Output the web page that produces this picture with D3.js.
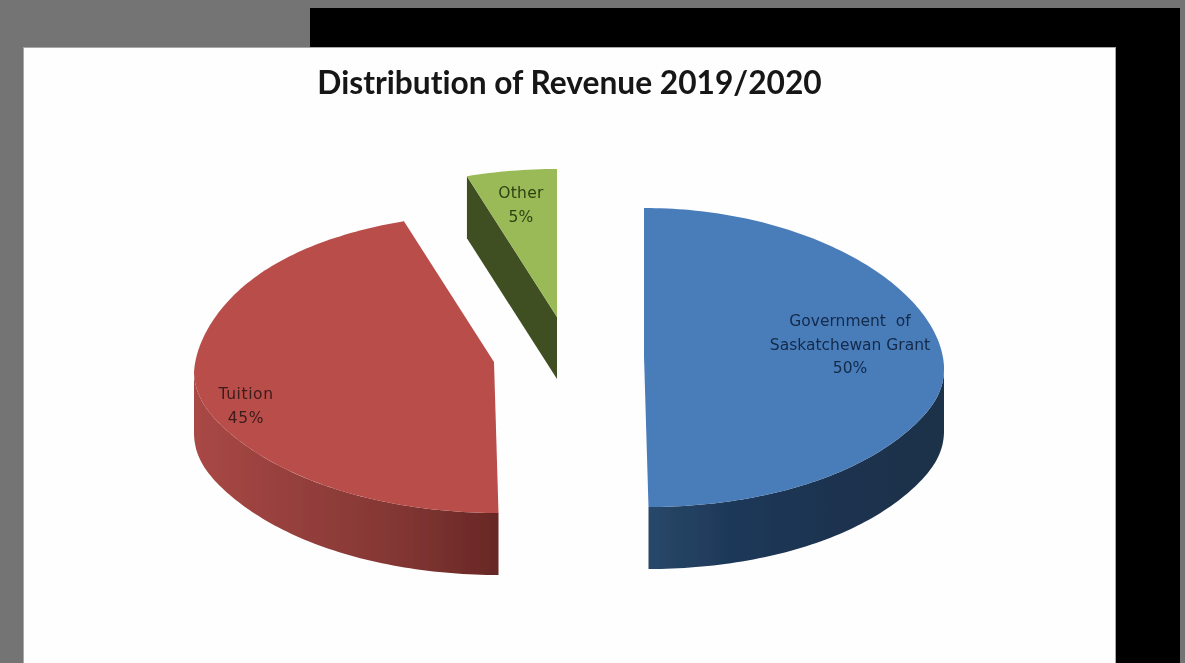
<!DOCTYPE html>
<html>
<head>
<meta charset="utf-8">
<style>
  html, body { margin: 0; padding: 0; background: #737473; overflow: hidden; }
  svg { display: block; }
</style>
<script src="https://d3js.org/d3.v7.min.js"></script>
</head>
<body>
<div id="chart"></div>
<script>
const categories = ['Government of Saskatchewan Grant', 'Tuition', 'Other'];
const shares = [50, 45, 5];
const title = 'Distribution of Revenue 2019/2020';

const width = 1185;
const height = 663;
const rx = 300;
const ryFar = 148;
const ryNear = 151;
const depth = 62;

// exploded slice centres
const centres = [[644, 356], [494, 362], [557, 317]];
const topColors = ['#4a7dba', '#b94d4a', '#9aba58'];
const labelColors = ['#12294a', '#3d1a1a', '#2c4211'];
const wallStops = [
    [[648, '#284869'], [720, '#1f3a5a'], [800, '#1c3452'], [944, '#1b3049']],
    [[195, '#a94845'], [300, '#943f3c'], [400, '#823633'], [500, '#672725']]
];
const cutColor = '#3f4f23';

// label lines and where they sit
const labelLines = [['Government  of', 'Saskatchewan Grant', '50%'], ['Tuition', '45%'], ['Other', '5%']];
const labelPos = [[850, 326], [246, 399], [521, 198]];
const labelSpacing = [0, 0.6, 0.3];
const lineGap = 23.5;

const svg = d3.select('#chart').append('svg')
    .attr('width', width)
    .attr('height', height);

const defs = svg.append('defs');
defs.append('filter')
    .attr('id', 'soft')
    .append('feGaussianBlur')
    .attr('stdDeviation', 0.45);

//backdrop
svg.append('rect')
    .attr('x', 310).attr('y', 8)
    .attr('width', 870).attr('height', 655)
    .attr('fill', '#000');

svg.append('rect')
    .attr('x', 23.5).attr('y', 47.5)
    .attr('width', 1092).attr('height', 620)
    .attr('fill', '#fefefe')
    .attr('stroke', '#a9a9a9');

const g = svg.append('g').attr('filter', 'url(#soft)');

g.append('text')
    .text(title)
    .attr('x', 569.5)
    .attr('y', 94)
    .attr('text-anchor', 'middle')
    .style('font-family', 'Lato, sans-serif')
    .style('font-weight', 700)
    .style('font-size', '31.7px')
    .style('font-variant-ligatures', 'none')
    .attr('fill', '#141414');

const pie = d3.pie().sort(null).value(d => d);
const slices = pie(shares);

// angle is clockwise from the back of the pie, z goes down the wall
function project(i, a, r, z) {
    const c = Math.cos(a);
    const s = Math.sin(a);
    const far = c > 0;
    const x = centres[i][0] + rx * r * s * (far ? 1 - 0.03 * c : 1) + (far ? 0 : -4.5 * c * r);
    // the rim sags a little at its widest point, not a true ellipse
    let sag = Math.pow(s, 16);
    if (far) sag = s > 0 ? s * s : Math.pow(s, 8);
    const y = centres[i][1] - (far ? ryFar : ryNear) * r * c + 10 * sag * r + z;
    return [x, y];
}

const line = d3.line();

function rim(i, a0, a1, z) {
    const n = Math.ceil(Math.abs(a1 - a0) / 0.02);
    return d3.range(n + 1).map(k => project(i, a0 + (a1 - a0) * k / n, 1, z));
}

//walls first, only the front half of the rim shows
slices.forEach((d, i) => {
    const a0 = Math.max(d.startAngle, Math.PI / 2);
    const a1 = Math.min(d.endAngle, Math.PI * 1.5);
    if (a1 <= a0) return;

    const grad = defs.append('linearGradient')
        .attr('id', 'wall' + i)
        .attr('gradientUnits', 'userSpaceOnUse')
        .attr('x1', wallStops[i][0][0]).attr('y1', 0)
        .attr('x2', wallStops[i][wallStops[i].length - 1][0]).attr('y2', 0);
    const x0 = wallStops[i][0][0];
    const span = wallStops[i][wallStops[i].length - 1][0] - x0;
    wallStops[i].forEach(st => {
        grad.append('stop')
            .attr('offset', (st[0] - x0) / span)
            .attr('stop-color', st[1]);
    });

    g.append('path')
        .attr('d', line(rim(i, a0, a1, 0).concat(rim(i, a1, a0, depth))) + 'Z')
        .attr('fill', `url(#wall${i})`);
});

//cut face of the small slice
slices.forEach((d, i) => {
    if (d.value !== d3.min(shares)) return;
    const p = project(i, d.startAngle, 1, 0);
    const q = project(i, d.startAngle, 1, depth);
    const cTop = project(i, 0, 0, 0);
    const cBot = project(i, 0, 0, depth);
    g.append('path')
        .attr('d', line([p, cTop, cBot, q]) + 'Z')
        .attr('fill', cutColor);
});

//top faces
slices.forEach((d, i) => {
    g.append('path')
        .attr('d', line([project(i, 0, 0, 0)].concat(rim(i, d.startAngle, d.endAngle, 0))) + 'Z')
        .attr('fill', topColors[i]);
});

//labels
labelLines.forEach((lines, i) => {
    lines.forEach((t, k) => {
        g.append('text')
            .text(t)
            .attr('x', labelPos[i][0])
            .attr('y', labelPos[i][1] + k * lineGap)
            .attr('text-anchor', 'middle')
            .style('white-space', 'pre')
            .style('letter-spacing', labelSpacing[i] + 'px')
            .style('font-family', '"DejaVu Sans", sans-serif')
            .style('font-size', '15.5px')
            .attr('fill', labelColors[i]);
    });
});
</script>
</body>
</html>
